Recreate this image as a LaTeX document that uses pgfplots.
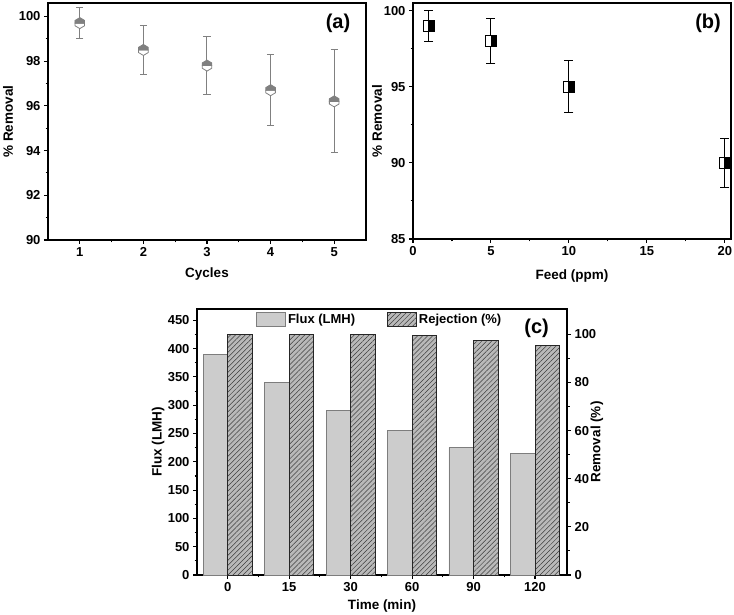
\documentclass[border=0pt]{standalone}
\usepackage{fontspec}
\setmainfont{Liberation Sans}
\usepackage{pgfplots}
\pgfplotsset{compat=1.18}
\usetikzlibrary{patterns.meta}

\definecolor{markgray}{RGB}{128,128,128}
\definecolor{fluxfill}{RGB}{204,204,204}
\definecolor{fluxedge}{RGB}{125,125,125}
\definecolor{rejfill}{RGB}{185,185,185}
\definecolor{rejline}{RGB}{60,60,60}

% hexagon, upper half grey, lower half white
\pgfdeclareplotmark{halfhex}{%
  \pgfsetlinewidth{0.8pt}%
  \pgfsetstrokecolor{markgray}%
  \pgfsetfillcolor{white}%
  \pgfpathmoveto{\pgfqpoint{-\pgfplotmarksize}{0pt}}%
  \pgfpathlineto{\pgfqpoint{-\pgfplotmarksize}{-0.55\pgfplotmarksize}}%
  \pgfpathlineto{\pgfqpoint{0pt}{-1.15\pgfplotmarksize}}%
  \pgfpathlineto{\pgfqpoint{\pgfplotmarksize}{-0.55\pgfplotmarksize}}%
  \pgfpathlineto{\pgfqpoint{\pgfplotmarksize}{0pt}}%
  \pgfpathclose
  \pgfusepathqfillstroke
  \pgfsetfillcolor{markgray}%
  \pgfpathmoveto{\pgfqpoint{-\pgfplotmarksize}{0pt}}%
  \pgfpathlineto{\pgfqpoint{-\pgfplotmarksize}{0.55\pgfplotmarksize}}%
  \pgfpathlineto{\pgfqpoint{0pt}{1.15\pgfplotmarksize}}%
  \pgfpathlineto{\pgfqpoint{\pgfplotmarksize}{0.55\pgfplotmarksize}}%
  \pgfpathlineto{\pgfqpoint{\pgfplotmarksize}{0pt}}%
  \pgfpathclose
  \pgfusepathqfillstroke
}

% square, left half white, right half black
\pgfdeclareplotmark{halfsq}{%
  \pgfsetlinewidth{0.8pt}%
  \pgfsetstrokecolor{black}%
  \pgfsetfillcolor{white}%
  \pgfpathrectangle{\pgfqpoint{-\pgfplotmarksize}{-\pgfplotmarksize}}{\pgfqpoint{\pgfplotmarksize}{2\pgfplotmarksize}}%
  \pgfusepathqfillstroke
  \pgfsetfillcolor{black}%
  \pgfpathrectangle{\pgfqpoint{0pt}{-\pgfplotmarksize}}{\pgfqpoint{\pgfplotmarksize}{2\pgfplotmarksize}}%
  \pgfusepathqfillstroke
}

\tikzset{panelmark/.style={font=\fontsize{20}{24}\selectfont\bfseries, anchor=center}}

\pgfplotsset{
  panel/.style={
    scale only axis, anchor=south west,
    axis line style={line width=1.3pt},
    every tick/.style={line width=1.1pt, black},
    tick align=outside,
    major tick length=4pt, minor tick length=2.5pt,
    ticklabel style={font=\fontsize{13}{15}\selectfont\bfseries},
    label style={font=\fontsize{13.5}{16}\selectfont\bfseries},
    /pgf/number format/assume math mode=true,
    clip=false,
  },
  legbox/.style={legend image code/.code={\draw[##1] (0pt,-7pt) rectangle (29pt,7pt);}},
}

\pgfplotstableread{
cyc rem err
1 99.7 0.7
2 98.5 1.1
3 97.8 1.3
4 96.7 1.6
5 96.2 2.3
}\cycles

\pgfplotstableread{
feed rem err
1  99.0 1.0
5  98.0 1.5
10 95.0 1.7
20 90.0 1.6
}\feeds

\begin{document}
\begin{tikzpicture}[x=1pt,y=1pt]
\useasboundingbox (0,0) rectangle (734,615);

% (a) removal over reuse cycles
\begin{axis}[panel, at={(48pt,375pt)}, width=318pt, height=237pt,
  xmin=0.5, xmax=5.5, ymin=90, ymax=100.6,
  xtick={1,...,5}, ytick={90,92,...,100},
  minor x tick num=1, minor y tick num=1, tick pos=left,
  xlabel={Cycles}, ylabel={\% Removal},
  xlabel style={at={(axis description cs:0.5,-0.143)}, anchor=center},
  ylabel style={at={(axis description cs:-0.126,0.5)}, anchor=center},
]
\addplot[only marks, mark=halfhex, mark size=4.8pt, draw=markgray,
  error bars/.cd, y dir=both, y explicit,
  error bar style={line width=1pt, markgray},
  error mark options={line width=1pt, markgray, mark size=3.6pt, rotate=90}]
  table[x=cyc, y=rem, y error=err] {\cycles};
\node[panelmark] at (axis description cs:0.912,0.916) {(a)};
\end{axis}

% (b) removal versus feed concentration
\begin{axis}[panel, at={(413pt,376pt)}, width=318pt, height=236pt,
  xmin=0, xmax=20.4, ymin=85, ymax=100.5,
  xtick={0,5,...,20}, ytick={85,90,95,100},
  minor x tick num=1, minor y tick num=1, tick pos=left,
  xlabel={Feed (ppm)}, ylabel={\% Removal},
  xlabel style={at={(axis description cs:0.5,-0.157)}, anchor=center},
  ylabel style={at={(axis description cs:-0.113,0.5)}, anchor=center},
]
\addplot[only marks, mark=halfsq, mark size=5.5pt, draw=black,
  error bars/.cd, y dir=both, y explicit,
  error bar style={line width=1.1pt, black},
  error mark options={line width=1.1pt, black, mark size=4.5pt, rotate=90}]
  table[x=feed, y=rem, y error=err] {\feeds};
\node[panelmark] at (axis description cs:0.928,0.915) {(b)};
\end{axis}

% (c) flux and rejection over time
\begin{axis}[panel, at={(197pt,40pt)}, width=370pt, height=266pt,
  xmin=-0.5, xmax=5.52, ymin=0, ymax=470,
  xtick={0,...,5}, xticklabels={0,15,30,60,90,120},
  ytick={0,50,...,450},
  minor x tick num=1, minor y tick num=1, tick pos=left,
  xlabel={Time (min)}, ylabel={Flux (LMH)},
  xlabel style={at={(axis description cs:0.5,-0.117)}, anchor=center},
  ylabel style={at={(axis description cs:-0.105,0.5)}, anchor=center},
]
\addplot[ybar, bar width=0.4, bar shift=-0.2, fill=fluxfill, draw=fluxedge, line width=0.8pt]
  coordinates {(0,390) (1,340) (2,290) (3,255) (4,225) (5,214)};
\end{axis}

\begin{axis}[panel, at={(197pt,40pt)}, width=370pt, height=266pt,
  xmin=-0.5, xmax=5.52, ymin=0, ymax=110.5,
  axis y line*=right, axis x line=none,
  ytick={0,20,...,100}, minor y tick num=1,
  ylabel={Removal (\%)},
  ylabel style={at={(axis description cs:1.081,0.5)}, anchor=center},
  legend style={at={(axis description cs:0.494,0.962)}, anchor=center,
    draw=none, fill=none, legend columns=2,
    font=\fontsize{13}{15}\selectfont\bfseries,
    /tikz/every even column/.append style={column sep=30pt}},
]
\addlegendimage{legbox, fill=fluxfill, draw=fluxedge, line width=0.8pt}
\addplot[ybar, bar width=0.4, bar shift=0.2, fill=rejfill, draw=black!85, line width=0.8pt,
  postaction={pattern={Lines[angle=45,distance=3.5pt,line width=0.5pt]}, pattern color=rejline},
  legbox]
  coordinates {(0,99.9) (1,99.8) (2,99.8) (3,99.4) (4,97.3) (5,95.3)};
\legend{Flux (LMH), Rejection (\%)}
\node[panelmark] at (axis description cs:0.918,0.929) {(c)};
\end{axis}
\end{tikzpicture}
\end{document}
